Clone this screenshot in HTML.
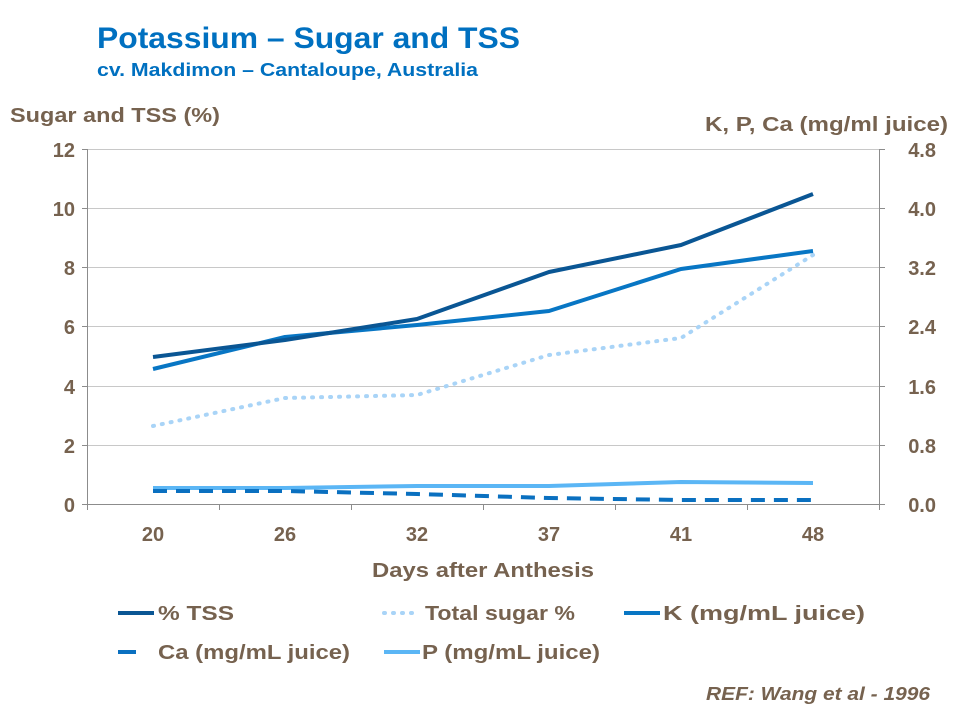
<!DOCTYPE html>
<html><head><meta charset="utf-8"><style>
html,body{margin:0;padding:0;background:#fff;}
svg{display:block;font-family:"Liberation Sans",Arial,sans-serif;font-weight:bold;}
</style></head><body>
<svg width="960" height="720" viewBox="0 0 960 720" xmlns="http://www.w3.org/2000/svg">
<text x="97" y="48" font-size="30" fill="#0070c0" textLength="423" lengthAdjust="spacingAndGlyphs">Potassium – Sugar and TSS</text>
<text x="97" y="76" font-size="18" fill="#0070c0" textLength="381" lengthAdjust="spacingAndGlyphs">cv. Makdimon – Cantaloupe, Australia</text>
<text x="10" y="122" font-size="20" fill="#76624f" textLength="210" lengthAdjust="spacingAndGlyphs">Sugar and TSS (%)</text>
<text x="705" y="131" font-size="20" fill="#76624f" textLength="243" lengthAdjust="spacingAndGlyphs">K, P, Ca (mg/ml juice)</text>
<g stroke="#c8c8c8" stroke-width="1">
<line x1="87" y1="149.5" x2="879" y2="149.5"/>
<line x1="87" y1="208.5" x2="879" y2="208.5"/>
<line x1="87" y1="267.5" x2="879" y2="267.5"/>
<line x1="87" y1="326.5" x2="879" y2="326.5"/>
<line x1="87" y1="386.5" x2="879" y2="386.5"/>
<line x1="87" y1="445.5" x2="879" y2="445.5"/>
</g>
<g stroke="#8c8c8c" stroke-width="1">
<line x1="87.5" y1="149" x2="87.5" y2="504"/>
<line x1="879.5" y1="149" x2="879.5" y2="504"/>
<line x1="87" y1="504.5" x2="880" y2="504.5"/>
<line x1="82" y1="149.5" x2="87" y2="149.5"/><line x1="82" y1="208.5" x2="87" y2="208.5"/><line x1="82" y1="267.5" x2="87" y2="267.5"/><line x1="82" y1="326.5" x2="87" y2="326.5"/><line x1="82" y1="386.5" x2="87" y2="386.5"/><line x1="82" y1="445.5" x2="87" y2="445.5"/><line x1="82" y1="504.5" x2="87" y2="504.5"/>
<line x1="879" y1="149.5" x2="885" y2="149.5"/><line x1="879" y1="208.5" x2="885" y2="208.5"/><line x1="879" y1="267.5" x2="885" y2="267.5"/><line x1="879" y1="326.5" x2="885" y2="326.5"/><line x1="879" y1="386.5" x2="885" y2="386.5"/><line x1="879" y1="445.5" x2="885" y2="445.5"/><line x1="879" y1="504.5" x2="885" y2="504.5"/>
<line x1="87.5" y1="504" x2="87.5" y2="510"/><line x1="219.5" y1="504" x2="219.5" y2="510"/><line x1="351.5" y1="504" x2="351.5" y2="510"/><line x1="483.5" y1="504" x2="483.5" y2="510"/><line x1="615.5" y1="504" x2="615.5" y2="510"/><line x1="747.5" y1="504" x2="747.5" y2="510"/><line x1="879.5" y1="504" x2="879.5" y2="510"/>
</g>
<g font-size="20" fill="#76624f" text-anchor="end">
<text x="75" y="157">12</text><text x="75" y="216">10</text><text x="75" y="275">8</text><text x="75" y="334">6</text><text x="75" y="394">4</text><text x="75" y="453">2</text><text x="75" y="512">0</text>
</g>
<g font-size="20" fill="#76624f" text-anchor="end">
<text x="936" y="157">4.8</text><text x="936" y="216">4.0</text><text x="936" y="275">3.2</text><text x="936" y="334">2.4</text><text x="936" y="394">1.6</text><text x="936" y="453">0.8</text><text x="936" y="512">0.0</text>
</g>
<g font-size="20" fill="#76624f" text-anchor="middle">
<text x="153" y="541">20</text><text x="285" y="541">26</text><text x="417" y="541">32</text><text x="549" y="541">37</text><text x="681" y="541">41</text><text x="813" y="541">48</text>
</g>
<text x="372" y="577" font-size="20" fill="#76624f" textLength="222" lengthAdjust="spacingAndGlyphs">Days after Anthesis</text>
<g fill="none" stroke-width="4" stroke-linejoin="round">
<polyline stroke="#a9d4f7" stroke-dasharray="1,8" stroke-linecap="round" points="153,426 285,398 417,395 549,355 681,338 813,255"/>
<polyline stroke="#5bb6f5" points="153,488 285,488 417,486 549,486 681,482 813,483"/>
<polyline stroke="#0a70c0" stroke-dasharray="14,9" points="153,491 285,491 417,494 549,498 681,500 813,500"/>
<polyline stroke="#0876c4" points="153,369 285,337 417,325 549,311 681,269 813,251"/>
<polyline stroke="#0a5694" points="153,357 285,340 417,319 549,272 681,245 813,194"/>
</g>
<g stroke-width="4" fill="none">
<line x1="118" y1="613" x2="154" y2="613" stroke="#0a5694"/>
<line x1="384" y1="613" x2="418" y2="613" stroke="#a9d4f7" stroke-dasharray="1,8" stroke-linecap="round"/>
<line x1="624" y1="613" x2="660" y2="613" stroke="#0876c4"/>
<line x1="118" y1="652" x2="136" y2="652" stroke="#0a70c0"/>
<line x1="384" y1="652" x2="420" y2="652" stroke="#5bb6f5"/>
</g>
<g font-size="20" fill="#76624f">
<text x="158" y="620" textLength="76" lengthAdjust="spacingAndGlyphs">%  TSS</text>
<text x="425" y="620" textLength="150" lengthAdjust="spacingAndGlyphs">Total sugar %</text>
<text x="663" y="620" textLength="202" lengthAdjust="spacingAndGlyphs">K (mg/mL juice)</text>
<text x="158" y="659" textLength="192" lengthAdjust="spacingAndGlyphs">Ca (mg/mL juice)</text>
<text x="422" y="659" textLength="178" lengthAdjust="spacingAndGlyphs">P (mg/mL juice)</text>
</g>
<text x="706" y="700" font-size="18" font-style="italic" fill="#76624f" textLength="224" lengthAdjust="spacingAndGlyphs">REF: Wang et al - 1996</text>
</svg>
</body></html>
